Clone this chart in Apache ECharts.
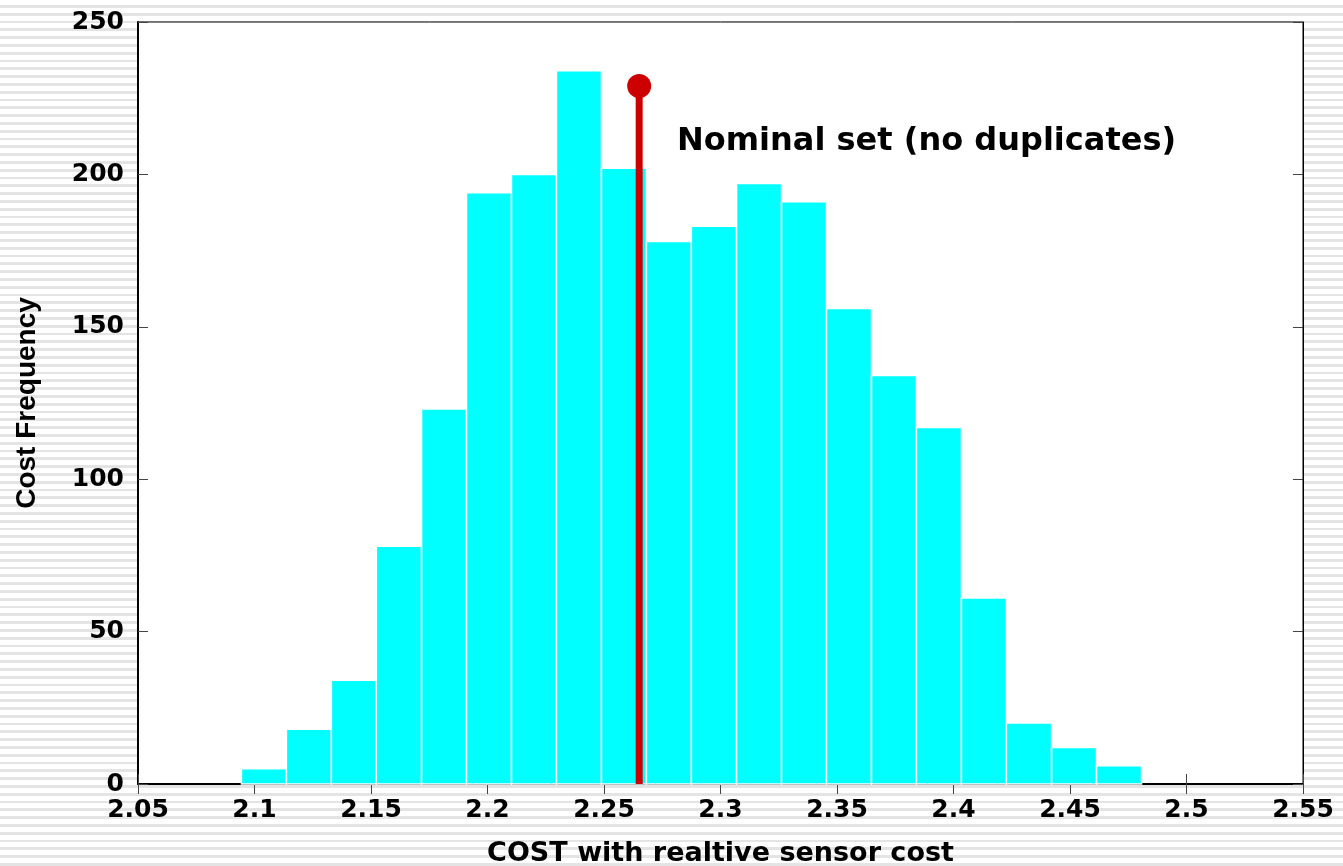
<!DOCTYPE html>
<html>
<head>
<meta charset="utf-8">
<script src="https://cdn.jsdelivr.net/npm/echarts@6/dist/echarts.min.js"></script>
<style>
html,body{margin:0;padding:0;width:1343px;height:866px;overflow:hidden;}
body{background:repeating-linear-gradient(to bottom,#ffffff 0px,#ffffff 5px,#e4e4e4 5px,#e4e4e4 7.8px);}
#chart{width:1343px;height:866px;}
</style>
</head>
<body>
<div id="chart"></div>
<script>
// Histogram bin edges (COST values)
const binEdges = [2.0944, 2.1137, 2.1330, 2.1523, 2.1717, 2.1910, 2.2103, 2.2296, 2.2489, 2.2682,
                  2.2875, 2.3069, 2.3262, 2.3455, 2.3648, 2.3841, 2.4034, 2.4227, 2.4421, 2.4614, 2.4807];
// Frequency per bin
const frequencies = [5, 18, 34, 78, 123, 194, 200, 234, 202, 178, 183, 197, 191, 156, 134, 117, 61, 20, 12, 6];
// Nominal set marker
const nominalCost = 2.2651;
const nominalHeight = 229;
const nominalLabel = 'Nominal set (no duplicates)';
const xTickLabels = ['2.05','2.1','2.15','2.2','2.25','2.3','2.35','2.4','2.45','2.5','2.55'];
const yTickLabels = ['0','50','100','150','200','250'];

const barData = frequencies.map((f, i) => [binEdges[i], binEdges[i + 1], f]);

const chart = echarts.init(document.getElementById('chart'));
const tickFont = {fontFamily: 'DejaVu Sans, sans-serif', fontWeight: 'bold', fontSize: 25, color: '#000'};

chart.setOption({
  backgroundColor: 'transparent',
  animation: false,
  grid: {left: 138, top: 22, right: 40, bottom: 82, containLabel: false, outerBoundsMode: 'none',
         show: true, backgroundColor: '#fff', borderColor: '#000', borderWidth: 1},
  xAxis: [{
    type: 'value', min: 2.05, max: 2.55, interval: 0.05,
    name: 'COST with realtive sensor cost', nameLocation: 'middle', nameGap: 56,
    nameTextStyle: {fontFamily: 'DejaVu Sans, sans-serif', fontWeight: 'bold', fontSize: 27, color: '#000'},
    axisLine: {show: true, onZero: false, lineStyle: {color: '#000', width: 2}},
    axisTick: {show: true, inside: true, length: 10, lineStyle: {color: '#444', width: 1}},
    axisLabel: Object.assign({margin: 14, formatter: v => xTickLabels[Math.round((v - 2.05) / 0.05)]}, tickFont),
    splitLine: {show: false}
  }, {
    type: 'value', min: 2.05, max: 2.55, interval: 0.05, position: 'top',
    axisLine: {show: true, lineStyle: {color: '#000', width: 1}},
    axisTick: {show: true, inside: true, length: 10, lineStyle: {color: '#444', width: 1}},
    axisLabel: {show: false}, splitLine: {show: false}
  }],
  yAxis: [{
    type: 'value', min: 0, max: 250, interval: 50,
    name: 'Cost Frequency', nameLocation: 'middle', nameGap: 97,
    nameTextStyle: {fontFamily: 'Liberation Sans, Arial, sans-serif', fontWeight: 'bold', fontSize: 28, color: '#000'},
    axisLine: {show: true, lineStyle: {color: '#000', width: 2}},
    axisTick: {show: true, inside: true, length: 10, lineStyle: {color: '#444', width: 1}},
    axisLabel: Object.assign({margin: 14, formatter: v => yTickLabels[Math.round(v / 50)]}, tickFont),
    splitLine: {show: false}
  }, {
    type: 'value', min: 0, max: 250, interval: 50, position: 'right',
    axisLine: {show: true, lineStyle: {color: '#000', width: 1}},
    axisTick: {show: true, inside: true, length: 10, lineStyle: {color: '#444', width: 1}},
    axisLabel: {show: false}, splitLine: {show: false}
  }],
  series: [{
    type: 'custom',
    xAxisIndex: 0, yAxisIndex: 0,
    data: barData,
    encode: {x: [0, 1], y: 2},
    renderItem: function (params, api) {
      const p0 = api.coord([api.value(0), 0]);
      const p1 = api.coord([api.value(1), api.value(2)]);
      return {
        type: 'rect',
        shape: {x: p0[0], y: p1[1], width: p1[0] - p0[0], height: p0[1] - p1[1]},
        style: {fill: '#00ffff', stroke: '#ffffff', lineWidth: 1.5}
      };
    }
  }, {
    type: 'line',
    xAxisIndex: 0, yAxisIndex: 0,
    data: [
      {value: [nominalCost, 0], symbol: 'none'},
      {value: [nominalCost, nominalHeight], symbol: 'circle', symbolSize: 24}
    ],
    lineStyle: {color: '#cc0000', width: 7},
    itemStyle: {color: '#cc0000'},
    z: 5
  }],
  graphic: [{
    type: 'text', x: 677, y: 142, z: 10,
    style: {text: nominalLabel, fontFamily: 'DejaVu Sans, sans-serif', fontWeight: 'bold', fontSize: 32, fill: '#000', verticalAlign: 'middle'}
  }]
});
</script>
</body>
</html>
